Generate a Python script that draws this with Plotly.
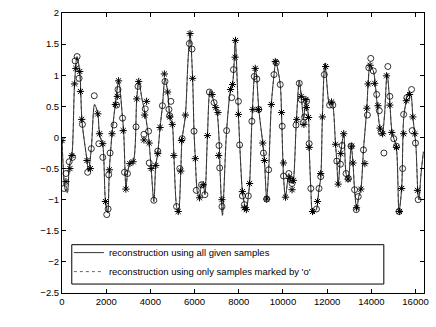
import plotly.graph_objects as go

###################################################################
# values
###################################################################

# reconstructed signal (sample index, amplitude)
sample_idx = [0, 67, 134, 237, 335, 447, 568, 679, 804, 907,
              1131, 1193, 1327, 1475, 1622, 1698, 1846, 1966, 2069, 2145,
              2264, 2413, 2565, 2740, 2793, 2896, 2963, 3070, 3218, 3383,
              3477, 3620, 3754, 3919, 4036, 4156, 4246, 4335, 4438, 4545,
              4661, 4782, 4885, 4992, 5063, 5184, 5273, 5376, 5430, 5586,
              5698, 5796, 5912, 5975, 6033, 6123, 6225, 6315, 6391, 6467,
              6583, 6704, 6882, 7030, 7119, 7150, 7209, 7262, 7450, 7629,
              7718, 7790, 7843, 7986, 8044, 8165, 8254, 8343, 8433, 8491,
              8594, 8701, 8750, 8817, 8907, 9085, 9161, 9264, 9354, 9474,
              9595, 9675, 9877, 9935, 10025, 10114, 10266, 10355, 10413, 10471,
              10605, 10739, 10829, 10936, 11038, 11159, 11186, 11262, 11351, 11517,
              11633, 11709, 11785, 11901, 12111, 12223, 12379, 12437, 12500, 12611,
              12750, 12857, 12960, 13085, 13170, 13241, 13340, 13429, 13528, 13644,
              13796, 13854, 13943, 14091, 14180, 14270, 14390, 14493, 14600, 14712,
              14837, 14940, 15128, 15253, 15373, 15462, 15583, 15664, 15776, 15879,
              15968, 16021, 16111, 16155, 16245, 16357]

recon_all = [-0.05, -0.55, -0.82, -0.89, -0.45, -0.29, 0.86, 1.30, 1.05, 0.25,
             -0.37, -0.55, -0.18, 0.53, 0.38, 0.05, -0.12, -1.02, -1.21, -0.52,
             0.06, 0.53, 0.91, 0.31, 0.08, -0.83, -0.58, -0.42, -0.39, 0.62,
             0.90, 0.62, 0.40, 0.0, -0.5, -1.03, -0.45, -0.25, 0.16, 0.50,
             0.95, 0.73, 0.33, 0.21, -0.29, -1.11, -1.22, -0.54, -0.05, 0.36,
             1.2, 1.67, 0.95, 0.10, -0.34, -0.87, -0.98, -0.76, -0.76, -0.92,
             0.03, 0.76, 0.56, 0.36, -0.11, -0.48, -0.99, -1.25, 0.11, 0.77,
             0.86, 1.2, 1.57, 0.37, -0.11, -0.87, -1.06, -1.16, -0.94, -0.74,
             0.26, 0.98, 1.13, 0.94, 0.45, -0.09, -0.37, -0.99, -0.52, 0.53,
             1.0, 1.22, 0.85, 0.40, -0.62, -0.96, -0.58, -0.68, -0.74, -0.69,
             0.25, 0.91, 0.66, 0.30, 0.60, 0.32, -0.12, -0.82, -1.23, -1.15,
             -0.82, -0.66, 0.33, 1.19, 0.52, 0.57, -0.11, -0.38, -0.77, -0.27,
             0.06, -0.58, -0.68, -0.14, -0.41, -0.84, -1.16, -0.95, -0.83, -0.20,
             0.47, 0.86, 1.15, 1.07, 0.85, 0.51, 0.15, 0.05, 0.37, 1.03,
             0.56, 0.08, -0.15, -1.19, -0.82, 0.30, 0.60, 0.72, 0.70, 0.33,
             0.05, -0.15, -0.9, -1.0, -0.6, -0.23]

# samples marked by 'o'
o_idx = [89, 179, 326, 478, 594, 684, 773, 925, 1162, 1327,
         1461, 1667, 1846, 2024, 2087, 2114, 2176, 2355, 2471, 2534,
         2740, 2829, 2963, 3352, 3441, 3709, 3767, 3919, 3946, 4156,
         4335, 4545, 4661, 4840, 4871, 4929, 5184, 5331, 5438, 5765,
         5886, 5975, 6078, 6315, 6467, 6672, 6882, 7106, 7137, 7240,
         7450, 7680, 7760, 7986, 8040, 8165, 8254, 8433, 8594, 8701,
         8817, 8907, 9117, 9264, 9354, 9595, 9698, 9877, 9966, 10025,
         10266, 10355, 10413, 10592, 10739, 10829, 10918, 10980, 11070, 11186,
         11262, 11517, 11633, 11709, 11874, 12111, 12258, 12437, 12602, 12678,
         12857, 12960, 13081, 13242, 13318, 13407, 13644, 13823, 13885, 13974,
         14091, 14243, 14359, 14448, 14569, 14748, 14837, 15016, 15137, 15253,
         15418, 15462, 15610, 15820, 15850, 15999, 16120]
o_val = [-0.82, -0.58, -0.39, -0.32, 1.23, 1.30, 0.95, 0.21, -0.56, -0.18,
         0.67, -0.10, -0.32, -1.24, -1.15, -0.60, -0.25, 0.20, 0.52, 0.77,
         0.31, -0.56, -0.58, 0.17, 0.82, 0.05, 0.46, 0.10, -0.41, -1.01,
         -0.22, 0.51, 0.90, 0.45, 0.35, 0.58, -1.11, -0.50, -0.02, 1.51,
         1.42, 0.10, -0.85, -0.76, -0.92, 0.73, 0.56, -0.13, -0.49, -1.11,
         0.11, 0.64, 1.09, 0.58, -0.12, -0.94, -1.08, -0.94, 0.26, 0.98,
         0.94, 0.45, -0.25, -0.99, -0.52, 1.01, 1.20, 0.85, 0.18, -0.62,
         -0.58, -0.68, -0.74, 0.20, 0.87, 0.61, 0.24, 0.33, 0.58, -0.10,
         -0.82, -1.15, -0.82, -0.63, 1.01, 0.52, 0.52, -0.38, -0.43, -0.13,
         -0.58, -0.66, -0.14, -0.84, -1.16, -0.95, -0.20, 0.36, 1.12, 1.27,
         1.07, 0.69, 0.43, 0.08, -0.25, 1.14, 0.66, -0.02, -0.14, -1.19,
         -0.50, 0.37, 0.64, 0.77, 0.11, -0.09, -1.0]

# remaining samples, marked by '*'
star_idx = [0, 179, 358, 447, 568, 626, 804, 836, 894, 1131,
            1283, 1622, 1698, 1846, 1966, 2145, 2266, 2413, 2503, 2561,
            2771, 2891, 3070, 3218, 3383, 3472, 3709, 3741, 3830, 3946,
            4036, 4246, 4335, 4438, 4634, 4782, 4885, 4992, 5063, 5260,
            5376, 5407, 5586, 5796, 5912, 6033, 6225, 6391, 6583, 6793,
            6958, 7061, 7092, 7240, 7629, 7718, 7834, 7852, 7986, 8165,
            8254, 8343, 8491, 8639, 8746, 8893, 9085, 9161, 9264, 9474,
            9653, 9935, 10025, 10114, 10310, 10413, 10471, 10623, 10829, 10949,
            11038, 11060, 11159, 11186, 11338, 11562, 11709, 11785, 11932, 12200,
            12379, 12500, 12616, 12750, 12947, 13108, 13170, 13331, 13528, 13707,
            13796, 13854, 13943, 14153, 14301, 14390, 14511, 14690, 14837, 14926,
            15137, 15271, 15373, 15462, 15583, 15731, 15879, 15968, 16088]
star_val = [-0.05, -0.71, -0.50, -0.29, 0.86, 1.11, 1.06, 0.74, 0.29, -0.37,
            -0.50, 0.38, 0.06, -0.10, -1.03, -0.52, 0.06, 0.53, 0.66, 0.91,
            0.11, -0.83, -0.42, -0.39, 0.62, 0.90, -0.04, 0.36, 0.58, -0.09,
            -0.50, -0.45, -0.26, 0.16, 1.02, 0.73, 0.33, 0.21, -0.29, -1.19,
            -0.54, -0.05, 0.36, 1.67, 0.95, -0.34, -0.97, -0.76, 0.03, 0.69,
            0.48, 0.40, -0.29, -1.0, 0.77, 0.85, 1.29, 1.56, 0.37, -0.87,
            -1.13, -1.16, -0.74, 0.45, 1.11, 0.45, -0.09, -0.37, -0.99, 0.53,
            1.22, 0.40, -0.41, -0.96, -0.66, -0.84, -0.69, 0.29, 0.66, 0.21,
            0.61, 0.48, 0.32, -0.16, -1.19, -1.03, -0.58, 0.33, 1.14, 0.57,
            -0.11, -0.75, -0.26, 0.06, -0.67, -0.14, -0.41, -1.13, -0.83, -0.42,
            0.47, 0.86, 1.16, 0.87, 0.51, 0.15, 0.06, 0.99, 0.52, 0.08,
            -0.16, -1.19, -0.82, 0.06, 0.59, 0.69, 0.33, 0.06, -0.85]

x_ticks = [0, 2000, 4000, 6000, 8000, 10000, 12000, 14000, 16000]
y_ticks = [-2.5, -2, -1.5, -1, -0.5, 0, 0.5, 1, 1.5, 2]

FONT = "Liberation Sans, Arial, sans-serif"

###################################################################
###################################################################

fig = go.Figure()

# reconstruction from the 'o' samples only (sits under the full one)
fig.add_trace(go.Scatter(
    x=sample_idx, y=recon_all,
    mode='lines',
    line=dict(color='#666666', width=1, dash='dot', shape='spline', smoothing=0.8),
    name="reconstruction using only samples marked by 'o'",
    legendrank=2
))

# reconstruction from all given samples
fig.add_trace(go.Scatter(
    x=sample_idx, y=recon_all,
    mode='lines',
    line=dict(color='#333333', width=1, shape='spline', smoothing=0.8),
    name='reconstruction using all given samples',
    legendrank=1
))

fig.add_trace(go.Scatter(
    x=star_idx, y=star_val,
    mode='markers',
    marker=dict(symbol='asterisk-open', size=6, color='black',
                line=dict(color='black', width=1)),
    showlegend=False, hoverinfo='skip'
))

fig.add_trace(go.Scatter(
    x=o_idx, y=o_val,
    mode='markers',
    marker=dict(symbol='circle-open', size=6, color='black',
                line=dict(color='black', width=0.8)),
    showlegend=False, hoverinfo='skip'
))

axis_style = dict(
    showline=True, linecolor='black', linewidth=1, mirror='ticks',
    ticks='inside', ticklen=4, tickwidth=1, tickcolor='black',
    showgrid=False, zeroline=False,
    tickfont=dict(family=FONT, size=9.5, color='black')
)

fig.update_layout(
    width=436, height=327,
    margin=dict(l=62, r=7, t=9, b=34),
    paper_bgcolor='white', plot_bgcolor='white',
    font=dict(family=FONT, size=9.5, color='black'),
    xaxis=dict(range=[0, 16384], tickvals=x_ticks, tickformat='d', **axis_style),
    yaxis=dict(range=[-2.5, 2], tickvals=y_ticks, **axis_style),
    legend=dict(
        x=0.019, y=0.196, xanchor='left', yanchor='top',
        bgcolor='rgba(0,0,0,0)', borderwidth=0,
        font=dict(family=FONT, size=9.5, color='black'),
        tracegroupgap=0
    ),
    shapes=[dict(
        type='rect', xref='paper', yref='paper',
        x0=0.027, x1=0.889, y0=0.032, y1=0.1725,
        line=dict(color='black', width=1), fillcolor='white', layer='above'
    )],
    showlegend=True
)

# drop the browser's default 8px body margin so the figure sits at 0,0
fig.write_html("out.html", config={'displayModeBar': False},
               post_script="document.body.style.margin = '0';")
